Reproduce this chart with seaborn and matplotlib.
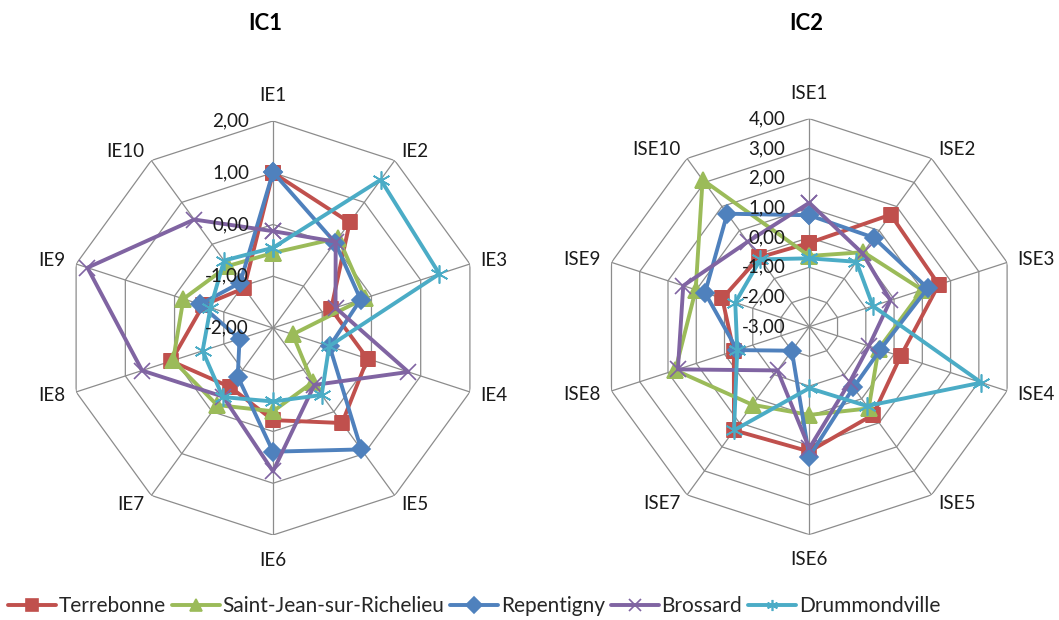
import numpy as np
import pandas as pd
import matplotlib
matplotlib.use("Agg")
import matplotlib.pyplot as plt
import seaborn as sns

# ---- data -------------------------------------------------------------
ic1_axes = ["IE1", "IE2", "IE3", "IE4", "IE5", "IE6", "IE7", "IE8", "IE9", "IE10"]
ic2_axes = ["ISE1", "ISE2", "ISE3", "ISE4", "ISE5", "ISE6", "ISE7", "ISE8", "ISE9", "ISE10"]

cities = ["Terrebonne", "Saint-Jean-sur-Richelieu", "Repentigny", "Brossard", "Drummondville"]

terrebonne_ic1 = [1.00, 0.52, -0.82, -0.08, 0.27, -0.22, -0.59, 0.07, -0.58, -1.05]
saint_jean_ic1 = [-0.55, 0.15, -0.13, -1.60, -0.70, -0.39, -0.16, 0.03, -0.18, -0.52]
repentigny_ic1 = [1.01, 0.04, -0.22, -0.85, 0.90, 0.39, -0.84, -1.32, -0.52, -0.92]
brossard_ic1 = [-0.13, 0.06, -0.73, 0.75, -0.64, 0.77, -0.36, 0.66, 1.77, 0.59]
drummondville_ic1 = [-0.45, 1.54, 1.38, -0.86, -0.40, -0.58, -0.35, -0.57, -0.73, -0.39]

terrebonne_ic2 = [-0.18, 1.66, 1.58, 0.23, 0.66, 1.20, 1.31, -0.33, 0.08, -0.12]
saint_jean_ic2 = [-0.62, 0.10, 1.00, -0.55, 0.40, -0.03, 0.25, 1.74, 1.02, 3.11]
repentigny_ic2 = [0.75, 0.70, 1.19, -0.49, -0.47, 1.37, -2.00, -0.45, 0.69, 1.70]
brossard_ic2 = [1.17, 0.05, -0.13, -0.89, -0.69, 1.09, -1.18, 1.65, 1.46, 0.53]
drummondville_ic2 = [-0.70, -0.30, -0.75, 3.09, 0.30, -0.93, 1.31, -0.45, -0.38, -0.20]

ic1_ticks = [-2, -1, 0, 1, 2]
ic2_ticks = [-3, -2, -1, 0, 1, 2, 3, 4]

# ---- style ------------------------------------------------------------
sns.set_style("white")
plt.rcParams["font.family"] = ["Lato", "DejaVu Sans"]

colors = ["#C0504D", "#9BBB59", "#4F81BD", "#8064A2", "#4BACC6"]
markers = ["s", "^", "D", "x", (6, 2, 0)]
msizes = [10, 11, 9, 11, 13]
grid_color = "#8C8C8C"
label_fs = 13.5


def radar(ax, axis_names, series, ticks, title_x, title):
    n = len(axis_names)
    theta = np.arange(n) * 2 * np.pi / n
    theta_c = np.append(theta, theta[0])
    rmin, rmax = ticks[0], ticks[-1]

    ax.set_theta_zero_location("N")
    ax.set_theta_direction(-1)
    ax.set_ylim(rmin, rmax)
    ax.grid(False)
    ax.spines["polar"].set_visible(False)
    ax.set_xticks([])
    ax.set_yticks([])
    ax.patch.set_alpha(0)

    # decagonal rings and spokes
    for lvl in ticks[1:]:
        ax.plot(theta_c, [lvl] * (n + 1), color=grid_color, lw=0.9, zorder=1)
    for t in theta:
        ax.plot([t, t], [rmin, rmax], color=grid_color, lw=0.9, zorder=1)

    handles = []
    for i, (name, vals) in enumerate(zip(cities, series)):
        df = pd.DataFrame({"angle": theta_c, "value": list(vals) + [vals[0]]})
        sns.lineplot(data=df, x="angle", y="value", ax=ax, sort=False,
                     estimator=None, color=colors[i], lw=2.8, marker=markers[i],
                     markersize=msizes[i], markeredgecolor=colors[i],
                     markerfacecolor=colors[i], markeredgewidth=1.2,
                     zorder=3 + i, legend=False)
        handles.append(ax.lines[-1])
    ax.set_xlabel("")
    ax.set_ylabel("")

    # radial value labels along the first spoke
    for lvl in ticks:
        ax.annotate(f"{lvl:.2f}".replace(".", ","), xy=(0, lvl),
                    xytext=(-24, 0), textcoords="offset pixels",
                    ha="right", va="center", fontsize=label_fs, color="#1a1a1a",
                    zorder=20)

    # axis category labels just outside the outer ring
    for t, name in zip(theta, axis_names):
        s, c = np.sin(t), np.cos(t)
        if abs(s) < 0.1:
            ha = "center"
            off = (0, 25 * c)
        else:
            ha = "left" if s > 0 else "right"
            off = (11 * s, 11 * c)
        ax.annotate(name, xy=(t, rmax), xytext=off, textcoords="offset pixels",
                    ha=ha, va="center", fontsize=label_fs, color="#1a1a1a")

    ax.figure.text(title_x, 1 - 24 / 620, title, ha="center", va="center",
                   fontsize=16, fontweight="bold", color="black")
    return handles


fig = plt.figure(figsize=(10.59, 6.2), dpi=100)
fig.patch.set_facecolor("white")

ax1 = fig.add_axes([0.0623, 0.137, 0.391, 0.668], projection="polar")
ax2 = fig.add_axes([0.5678, 0.1376, 0.3928, 0.671], projection="polar")

h = radar(ax1, ic1_axes,
          [terrebonne_ic1, saint_jean_ic1, repentigny_ic1, brossard_ic1, drummondville_ic1],
          ic1_ticks, 265 / 1059, "IC1")
radar(ax2, ic2_axes,
      [terrebonne_ic2, saint_jean_ic2, repentigny_ic2, brossard_ic2, drummondville_ic2],
      ic2_ticks, 806 / 1059, "IC2")

leg = fig.legend(h, cities, ncol=5, loc="center left",
                 bbox_to_anchor=(8 / 1059, 1 - 606 / 620), frameon=False,
                 fontsize=15, handlelength=2.3, handletextpad=0.12,
                 columnspacing=0.3, borderaxespad=0, borderpad=0)
for line in leg.get_lines():
    line.set_markersize(8)

fig.savefig("out.png", dpi=100, facecolor="white")
